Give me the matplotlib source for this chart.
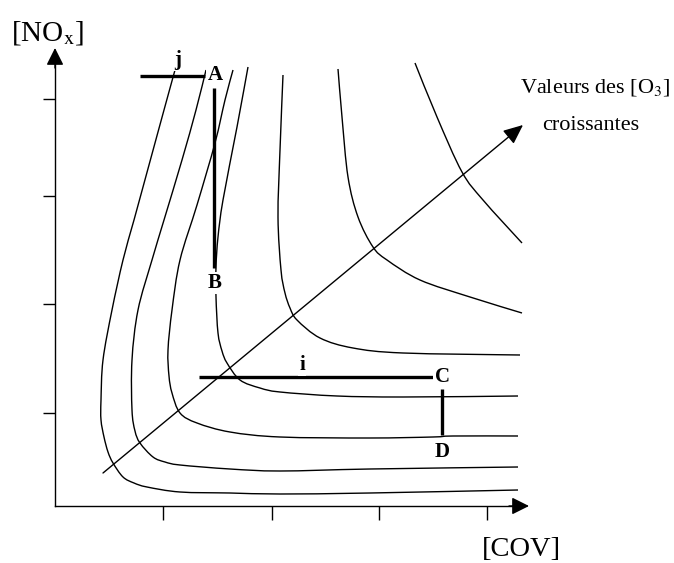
import matplotlib
matplotlib.use('Agg')
import matplotlib.pyplot as plt
import numpy as np
from matplotlib.path import Path
from matplotlib.patches import PathPatch

plt.rcParams['font.family'] = ['Liberation Serif', 'DejaVu Serif']
plt.rcParams['mathtext.fontset'] = 'stix'

# isopleths (x = [COV], y = [NOx], arbitrary units)
c1_x = [120, 109, 94, 79, 68, 57, 48, 46, 46, 49, 53, 58, 68, 79, 92, 125, 175, 225, 315, 463]
c1_y = [436, 396, 341, 286, 246, 196, 146, 106, 86, 69, 54, 43, 29, 23, 19, 14, 13, 12, 13, 16]
c2_x = [151, 141, 127, 109, 97, 83, 77, 77, 80, 85, 98, 110, 125, 175, 225, 315, 463]
c2_y = [436, 396, 346, 286, 246, 196, 146, 96, 75, 63, 49, 44, 41, 37, 35, 37, 39]
c3_x = [178, 170, 160, 142, 125, 117, 113, 114, 117, 125, 142, 175, 225, 315, 378, 398, 463]
c3_y = [436, 406, 363, 301, 246, 196, 156, 130, 113, 93, 83, 74, 69, 68, 69, 70, 70]
c4_x = [193, 182, 168, 163, 161, 161, 163, 167, 172, 185, 205, 225, 282, 348, 463]
c4_y = [439, 379, 306, 269, 239, 209, 173, 155, 143, 126, 118, 114, 110, 109, 110]
c5_x = [228, 225, 223, 226, 230, 235, 242, 265, 298, 348, 465]
c5_y = [431, 356, 289, 236, 213, 198, 186, 168, 158, 153, 151]
c6_x = [283, 287, 293, 303, 318, 332, 365, 415, 467]
c6_y = [437, 389, 329, 289, 259, 246, 226, 209, 193]
c7_x = [360, 382, 407, 428, 467]
c7_y = [443, 389, 334, 306, 263]
curves = [(c1_x, c1_y), (c2_x, c2_y), (c3_x, c3_y), (c4_x, c4_y),
          (c5_x, c5_y), (c6_x, c6_y), (c7_x, c7_y)]

# paths j, A-B, i, C-D
j_x, j_y = [85, 150], [430, 430]
ab_x, ab_y = [159, 159], [418, 238]
i_x, i_y = [144, 378], [129, 129]
cd_x, cd_y = [387, 387], [117, 71]

points = ['j', 'A', 'B', 'i', 'C', 'D']
points_x = [123, 160, 160, 247, 387, 387]
points_y = [446, 431, 223, 141, 129, 54]

x_ticks = [108, 217, 324, 432]
y_ticks = [93, 202, 310, 407]
x_end, y_end = 474, 458


def smooth_path(xs, ys):
    # bezier path through the read points (catmull-rom tangents)
    p = np.column_stack([xs, ys]).astype(float)
    verts = [p[0]]
    codes = [Path.MOVETO]
    for k in range(len(p) - 1):
        p0 = p[k - 1] if k > 0 else p[k]
        p3 = p[k + 2] if k + 2 < len(p) else p[k + 1]
        c1 = p[k] + (p[k + 1] - p0) / 6
        c2 = p[k + 1] - (p3 - p[k]) / 6
        verts += [c1, c2, p[k + 1]]
        codes += [Path.CURVE4] * 3
    return Path(verts, codes)


fig = plt.figure(figsize=(6.74, 5.63), dpi=100)
ax = fig.add_axes([0, 0, 1, 1])
ax.set_xlim(-55, 619)
ax.set_ylim(-57, 506)

for s in ['top', 'right']:
    ax.spines[s].set_visible(False)
ax.spines['left'].set_position(('data', 0))
ax.spines['bottom'].set_position(('data', 0))
ax.spines['left'].set_bounds(0, y_end - 10)
ax.spines['bottom'].set_bounds(0, x_end - 10)
for s in ['left', 'bottom']:
    ax.spines[s].set_linewidth(1.0)
ax.set_xticks(x_ticks)
ax.set_yticks(y_ticks)
ax.set_xticklabels([])
ax.set_yticklabels([])
ax.tick_params(axis='x', direction='out', length=10, width=1.0)
ax.tick_params(axis='y', direction='out', length=8.5, width=1.0)

arrow = dict(arrowstyle='-|>,head_length=0.7,head_width=0.35', color='k', lw=1.0,
             shrinkA=0, shrinkB=0, mutation_scale=15)
ax.annotate('', xy=(0, y_end), xytext=(0, y_end - 20), arrowprops=arrow)
ax.annotate('', xy=(x_end, 0), xytext=(x_end - 20, 0), arrowprops=arrow)

for cx, cy in curves:
    ax.add_patch(PathPatch(smooth_path(cx, cy), facecolor='none', edgecolor='k', lw=1.0))

# direction of increasing ozone
ax.annotate('', xy=(468, 381), xytext=(48, 33),
            arrowprops=dict(arrowstyle='-|>,head_length=0.8,head_width=0.35', color='k',
                            lw=1.0, shrinkA=0, shrinkB=0, mutation_scale=15))

for px, py in [(j_x, j_y), (ab_x, ab_y), (i_x, i_y), (cd_x, cd_y)]:
    ax.plot(px, py, color='k', lw=2.4, solid_capstyle='butt')

for name, px, py in zip(points, points_x, points_y):
    ax.text(px, py, name, fontsize=15, fontweight='bold', ha='center', va='center',
            bbox=dict(facecolor='white', edgecolor='none', pad=1.0))

ax.text(-7, 473, '[NO$_{\\rm x}$]', fontsize=21, ha='center', va='center')
ax.text(466, -44, '[COV]', fontsize=20.5, ha='center', va='center')
ax.text(540, 419, 'Valeurs des [O$_3$]', fontsize=16, ha='center', va='center')
ax.text(536, 381, 'croissantes', fontsize=16, ha='center', va='center')

fig.savefig('out.png', dpi=100)
